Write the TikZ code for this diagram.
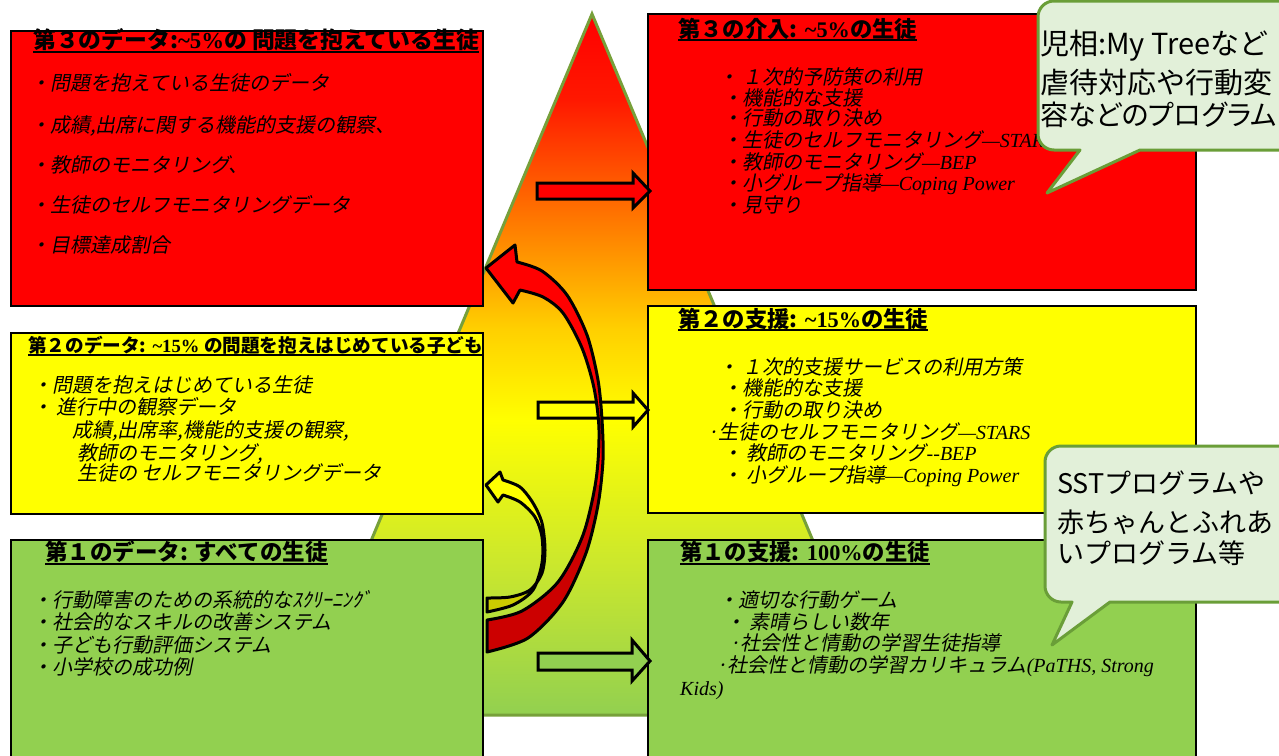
\documentclass[tikz,border=0pt]{standalone}
\usepackage{fontspec}
\setmainfont{Liberation Serif}
\newfontfamily\jpfont{Noto Sans CJK JP}
\newfontfamily\jppalt[RawFeature=+palt]{Noto Sans CJK JP}
\newfontfamily\jpitfont[FakeSlant=0.2]{Noto Sans CJK JP}
\newfontfamily\tmfont{Liberation Serif}
\newcommand\jb[1]{{\jpfont\bfseries #1}}
\newcommand\tb[1]{{\tmfont\bfseries #1}}
\newcommand\ti[1]{{\tmfont\itshape #1}}
\definecolor{boxred}{HTML}{FF0000}
\definecolor{boxyellow}{HTML}{FFFF00}
\definecolor{boxgreen}{HTML}{92D050}
\definecolor{darkred}{HTML}{CC0000}
\definecolor{darkyellow}{HTML}{CCCC00}
\definecolor{olive}{HTML}{77A03A}
\definecolor{calloutfill}{HTML}{E2F0D9}
\definecolor{calloutline}{HTML}{6A9E38}
\definecolor{sA}{HTML}{92D050}
\definecolor{sB}{HTML}{CCE82C}
\definecolor{sC}{HTML}{FFFF00}
\definecolor{sD}{HTML}{FFD000}
\definecolor{sE}{HTML}{FF8000}
\definecolor{sF}{HTML}{FF1800}
\definecolor{sG}{HTML}{FF0000}
\pgfdeclareverticalshading{pyramid}{100bp}{color(0bp)=(sA); color(25bp)=(sA); color(36bp)=(sB); color(46bp)=(sC); color(52.5bp)=(sD); color(59.6bp)=(sE); color(68.9bp)=(sF); color(75bp)=(sG); color(100bp)=(sG)}
\tikzset{
  panel/.style={draw=black, line width=2pt},
  title/.style={anchor=base west, inner sep=0pt, font=\fontsize{22.3}{25}\selectfont},
  item/.style={anchor=base west, inner sep=0pt, font=\fontsize{20}{22}\selectfont\jpitfont},
  uline/.style={line width=1.5pt},
  blockarrow/.style={draw=black, line width=3pt, line join=miter},
  curvearrow/.style={draw=black, line width=3pt, line join=round},
  callout/.style={fill=calloutfill, draw=calloutline, line width=3pt, line join=round},
  ctext/.style={anchor=base west, inner sep=0pt, font=\fontsize{29}{34}\selectfont\jpfont},
  ctextb/.style={anchor=base west, inner sep=0pt, font=\fontsize{27}{32}\selectfont\jpfont}
}
\begin{document}
\begin{tikzpicture}[x=1pt,y=-1pt]
\useasboundingbox (0,0) rectangle (1279,755);
\clip (0,0) rectangle (1279,755);
\fill[white] (0,0) rectangle (1279,755);

% pyramid
\shade[shading=pyramid] (592,14) -- (886,715) -- (298,715) -- cycle;
\draw[olive, line width=3pt, line join=miter] (592,14) -- (886,715) -- (298,715) -- cycle;

% left panels
\draw[panel, fill=boxred] (11,31) rectangle (483,306);
\draw[panel, fill=boxyellow] (11,333) rectangle (483,514);
\draw[panel, fill=boxgreen] (11,540) rectangle (483,770);
% right panels
\draw[panel, fill=boxred] (648,14) rectangle (1196,290);
\draw[panel, fill=boxyellow] (648,306) rectangle (1196,513);
\draw[panel, fill=boxgreen] (648,540) rectangle (1196,770);

% ---- left top (red)
\node[title, font=\fontsize{22.8}{25}\selectfont] (lt) at (33,48) {\jb{第３のデータ:}\tb{\textasciitilde5\%}\jb{の 問題を抱えている生徒}};
\draw[uline] ([yshift=-4pt]lt.base west) -- ([yshift=-4pt]lt.base east);
\node[item] (lt1) at (30,90) {・問題を抱えている生徒のデータ};
\node[item] (lt2) at (30,132) {・成績,出席に関する機能的支援の観察、};
\node[item] (lt3) at (30,172) {・教師のモニタリング、};
\node[item] (lt4) at (30,212) {・生徒のセルフモニタリングデータ};
\node[item] (lt5) at (30,252) {・目標達成割合};

% ---- left middle (yellow)
\node[title, font=\fontsize{18.6}{22}\selectfont] (lm) at (28,352) {\jb{第２のデータ:}\tb{ \textasciitilde15\% }\jb{の問題を抱えはじめている子ども}};
\draw[uline] ([yshift=-3pt]lm.base west) -- ([yshift=-3pt]lm.base east);
\node[item] (lm1) at (32,392) {・問題を抱えはじめている生徒};
\node[item] (lm2) at (32,414) {・ 進行中の観察データ};
\node[item] (lm3) at (72,437) {成績,出席率,機能的支援の観察,};
\node[item] (lm4) at (77,460) {教師のモニタリング,};
\node[item] (lm5) at (77,480) {生徒の セルフモニタリングデータ};

% ---- left bottom (green)
\node[title, font=\fontsize{22.5}{25}\selectfont] (lb) at (45,560) {\jb{第１のデータ: すべての生徒}};
\draw[uline] ([yshift=-4pt]lb.base west) -- ([yshift=-4pt]lb.base east);
\node[item] (lb1) at (32,607) {・行動障害のための系統的なｽｸﾘｰﾆﾝｸﾞ};
\node[item] (lb2) at (32,629) {・社会的なスキルの改善システム};
\node[item] (lb3) at (32,652) {・子ども行動評価システム};
\node[item] (lb4) at (32,674) {・小学校の成功例};

% ---- right top (red)
\node[title] (rt) at (678,37) {\jb{第３の介入:}\tb{ \textasciitilde5\%}\jb{の生徒}};
\draw[uline] ([yshift=-3pt]rt.base west) -- ([yshift=-3pt]rt.base east);
\node[item] (rt1) at (718,84) {・ １次的予防策の利用};
\node[item] (rt2) at (722,105) {・機能的な支援};
\node[item] (rt3) at (722,125) {・行動の取り決め};
\node[item] (rt4) at (722,147) {・生徒のセルフモニタリング\ti{—STARS}};
\node[item] (rt5) at (722,169) {・教師のモニタリング\ti{—BEP}};
\node[item] (rt6) at (722,190) {・小グループ指導\ti{—Coping Power}};
\node[item] (rt7) at (722,212) {・見守り};

% ---- right middle (yellow)
\node[title] (rm) at (678,327) {\jb{第２の支援:}\tb{ \textasciitilde15\%}\jb{の生徒}};
\draw[uline] ([yshift=-3pt]rm.base west) -- ([yshift=-3pt]rm.base east);
\node[item] (rm1) at (718,374) {・ １次的支援サービスの利用方策};
\node[item] (rm2) at (722,395) {・機能的な支援};
\node[item] (rm3) at (722,417) {・行動の取り決め};
\node[item] (rm4) at (707,439) {·生徒のセルフモニタリング\ti{—STARS}};
\node[item] (rm5) at (722,460) {・ 教師のモニタリング\ti{-{}-BEP}};
\node[item] (rm6) at (722,482) {・ 小グループ指導\ti{—Coping Power}};

% ---- right bottom (green)
\node[title] (rb) at (680,560) {\jb{第１の支援:}\tb{ 100\%}\jb{の生徒}};
\draw[uline] ([yshift=-4pt]rb.base west) -- ([yshift=-4pt]rb.base east);
\node[item] (rb1) at (718,607) {・適切な行動ゲーム};
\node[item] (rb2) at (725,629) {・ 素晴らしい数年};
\node[item] (rb3) at (729,650) {·社会性と情動の学習生徒指導};
\node[item] (rb4) at (716,672) {·社会性と情動の学習カリキュラム\ti{(PaTHS, Strong}};
\node[item] (rb5) at (680,695) {\ti{Kids)}};

% ---- straight block arrows
\draw[blockarrow, fill=boxred] (537,183) -- (633,183) -- (633,173) -- (650,191) -- (633,208) -- (633,199) -- (537,199) -- cycle;
\draw[blockarrow, fill=boxyellow] (538,402) -- (633,402) -- (633,393) -- (648,410) -- (633,427) -- (633,418) -- (538,418) -- cycle;
\draw[blockarrow, fill=boxgreen] (538,653) -- (632,653) -- (632,640) -- (650,661) -- (632,681) -- (632,670) -- (538,670) -- cycle;

% ---- big red curved arrow
\def\redarrow{(486,268) -- (515,245) -- (517,262) -- plot[smooth] coordinates {(517,262) (542,271) (567,295) (587,335) (598,380) (602,420) (603,460) (598,505) (586,553) (563,602) (528,638) (487,652)} -- (487,620) -- plot[smooth] coordinates {(487,620) (522,611) (558,582) (583,535) (596,480) (599,430) (594,388) (582,348) (563,313) (543,297) (520,290)} -- (513,303) -- cycle}
\fill[boxred] \redarrow;
\begin{scope}
\clip (480,485) rectangle (620,700);
\fill[darkred] \redarrow;
\end{scope}
\draw[curvearrow] \redarrow;

% ---- small yellow curved arrow
\def\yelarrow{(486,485) -- (500,472) -- (503,480) -- plot[smooth] coordinates {(503,480) (520,487) (533,503) (542,523) (545,550) (542,573) (530,590) (510,597) (487,598)} -- (487,612) -- plot[smooth] coordinates {(487,612) (513,605) (533,590) (542,563) (542,537) (535,517) (520,502) (503,495)} -- (498,502) -- cycle}
\fill[boxyellow] \yelarrow;
\begin{scope}
\clip (480,556) rectangle (560,620);
\fill[darkyellow] \yelarrow;
\end{scope}
\draw[curvearrow] \yelarrow;

% ---- callouts
\draw[callout] (1038,40) [rounded corners=16] -- (1038,1) -- (1300,1) -- (1300,150) [sharp corners] -- (1140,150) -- (1047,193) -- (1080,150) [rounded corners=16] -- (1038,150) -- (1038,40);
\node[ctext] (c1a) at (1040,54) {児相:My Treeなど};
\node[ctext] (c1b) at (1040,93) {虐待対応や行動変};
\node[ctext, font=\fontsize{28}{34}\selectfont\jppalt] (c1c) at (1040,125) {容などのプログラム};

\draw[callout] (1045,520) [rounded corners=16] -- (1045,446) -- (1300,446) -- (1300,602) [sharp corners] -- (1110,602) -- (1052,645) -- (1072,602) [rounded corners=16] -- (1045,602) -- (1045,520);
\node[ctextb] (c2a) at (1057,493) {SSTプログラムや};
\node[ctextb] (c2b) at (1057,532) {赤ちゃんとふれあ};
\node[ctextb] (c2c) at (1057,563) {いプログラム等};
\end{tikzpicture}
\end{document}
